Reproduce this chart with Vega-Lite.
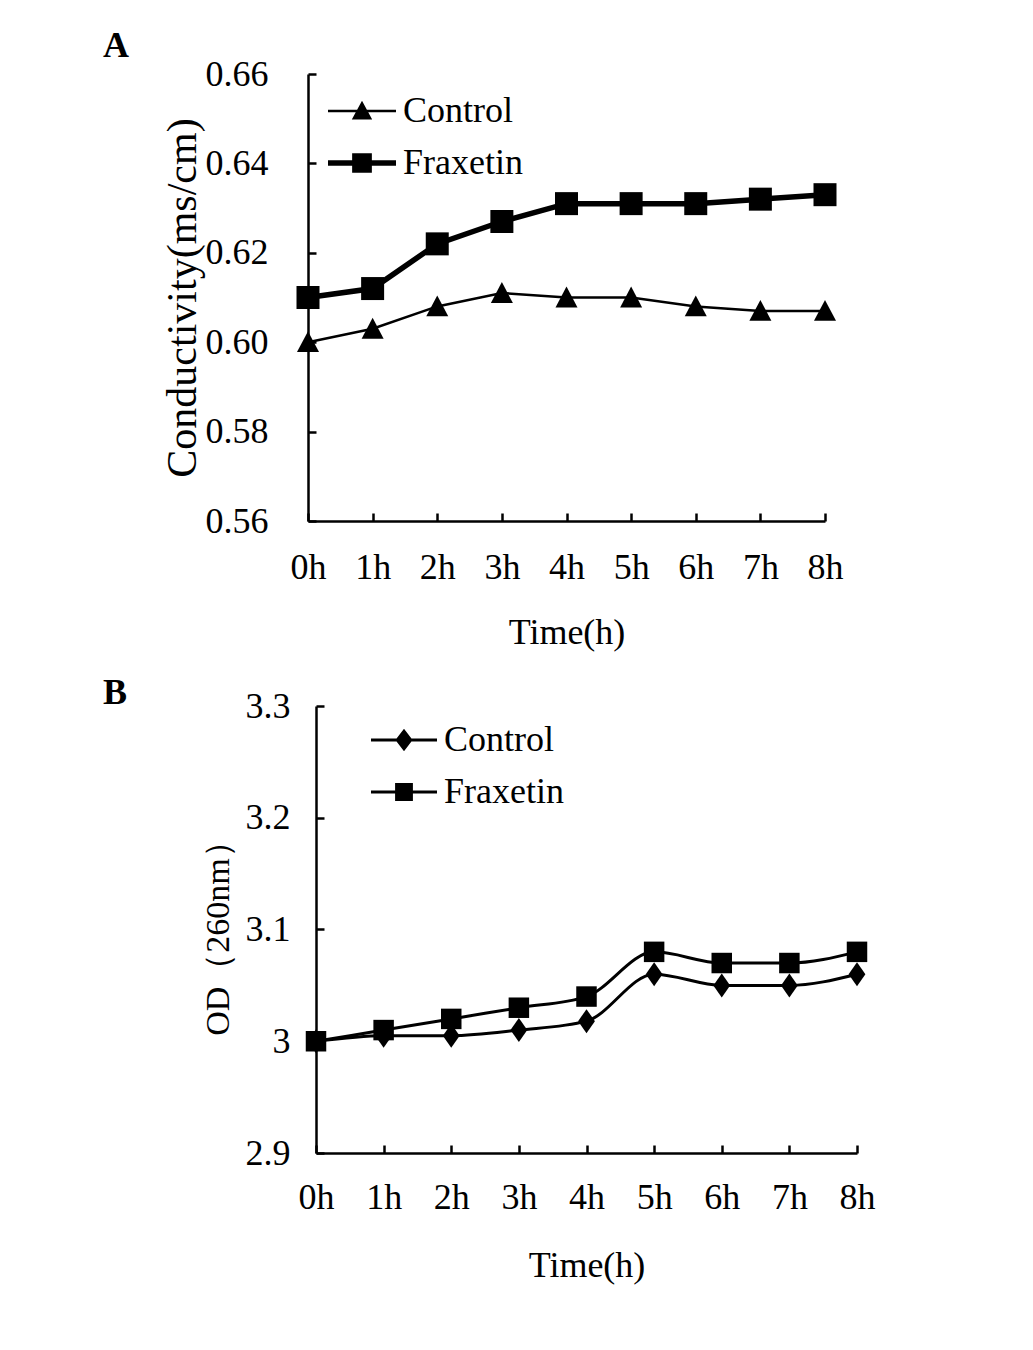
{
  "$schema": "https://vega.github.io/schema/vega-lite/v6.json",
  "padding": {"left": 103, "top": 28, "right": 5, "bottom": 5},
  "background": "white",
  "spacing": 25,
  "align": "none",
  "config": {
    "font": "Liberation Serif",
    "view": {"stroke": null},
    "axis": {
      "grid": false,
      "domainColor": "black",
      "domainWidth": 2.5,
      "tickColor": "black",
      "tickWidth": 2.5,
      "tickSize": -8,
      "labelFont": "Liberation Serif",
      "labelFontSize": 36,
      "labelColor": "black",
      "titleFont": "Liberation Serif",
      "titleFontWeight": "normal",
      "titleColor": "black"
    },
    "legend": {
      "labelFont": "Liberation Serif",
      "labelFontSize": 36,
      "labelColor": "black",
      "title": null
    },
    "title": {"font": "Liberation Serif", "fontSize": 36, "fontWeight": "bold", "color": "black"}
  },
  "datasets": {
    "conductivity": [
      {"time": "0h", "series": "Control", "value": 0.600},
      {"time": "1h", "series": "Control", "value": 0.603},
      {"time": "2h", "series": "Control", "value": 0.608},
      {"time": "3h", "series": "Control", "value": 0.611},
      {"time": "4h", "series": "Control", "value": 0.610},
      {"time": "5h", "series": "Control", "value": 0.610},
      {"time": "6h", "series": "Control", "value": 0.608},
      {"time": "7h", "series": "Control", "value": 0.607},
      {"time": "8h", "series": "Control", "value": 0.607},
      {"time": "0h", "series": "Fraxetin", "value": 0.610},
      {"time": "1h", "series": "Fraxetin", "value": 0.612},
      {"time": "2h", "series": "Fraxetin", "value": 0.622},
      {"time": "3h", "series": "Fraxetin", "value": 0.627},
      {"time": "4h", "series": "Fraxetin", "value": 0.631},
      {"time": "5h", "series": "Fraxetin", "value": 0.631},
      {"time": "6h", "series": "Fraxetin", "value": 0.631},
      {"time": "7h", "series": "Fraxetin", "value": 0.632},
      {"time": "8h", "series": "Fraxetin", "value": 0.633}
    ],
    "od": [
      {"time": "0h", "series": "Control", "value": 3.000},
      {"time": "1h", "series": "Control", "value": 3.005},
      {"time": "2h", "series": "Control", "value": 3.005},
      {"time": "3h", "series": "Control", "value": 3.010},
      {"time": "4h", "series": "Control", "value": 3.018},
      {"time": "5h", "series": "Control", "value": 3.060},
      {"time": "6h", "series": "Control", "value": 3.050},
      {"time": "7h", "series": "Control", "value": 3.050},
      {"time": "8h", "series": "Control", "value": 3.060},
      {"time": "0h", "series": "Fraxetin", "value": 3.000},
      {"time": "1h", "series": "Fraxetin", "value": 3.010},
      {"time": "2h", "series": "Fraxetin", "value": 3.020},
      {"time": "3h", "series": "Fraxetin", "value": 3.030},
      {"time": "4h", "series": "Fraxetin", "value": 3.040},
      {"time": "5h", "series": "Fraxetin", "value": 3.080},
      {"time": "6h", "series": "Fraxetin", "value": 3.070},
      {"time": "7h", "series": "Fraxetin", "value": 3.070},
      {"time": "8h", "series": "Fraxetin", "value": 3.080}
    ]
  },
  "vconcat": [
    {
      "width": 517,
      "height": 447,
      "title": {"text": "A", "anchor": "start", "frame": "group", "dx": -205, "offset": -9},
      "data": {"name": "conductivity"},
      "encoding": {
        "x": {
          "field": "time", "type": "ordinal",
          "scale": {"type": "point", "padding": 0},
          "axis": {"title": "Time(h)", "titleFontSize": 36, "labelAngle": 0, "labelPadding": 37, "titlePadding": 30}
        },
        "y": {
          "field": "value", "type": "quantitative",
          "scale": {"domain": [0.56, 0.66], "nice": false, "zero": false},
          "axis": {"title": "Conductivity(ms/cm)", "titleFontSize": 42, "values": [0.56, 0.58, 0.6, 0.62, 0.64, 0.66], "format": ".2f", "labelPadding": 48, "titlePadding": 1}
        }
      },
      "layer": [
        {
          "mark": {"type": "line", "color": "black"},
          "encoding": {
            "strokeWidth": {"field": "series", "type": "nominal", "scale": {"domain": ["Control", "Fraxetin"], "range": [2.5, 5.5]}, "legend": null}
          }
        },
        {
          "mark": {"type": "point", "filled": true, "color": "black", "opacity": 1},
          "encoding": {
            "shape": {"field": "series", "type": "nominal", "scale": {"domain": ["Control", "Fraxetin"], "range": ["M0,-1 L1,0.9 L-1,0.9 Z", "square"]}, "legend": null},
            "size": {"field": "series", "type": "nominal", "scale": {"domain": ["Control", "Fraxetin"], "range": [484, 529]}, "legend": null}
          }
        },
        {
          "mark": {"type": "point", "filled": true, "color": "black", "opacity": 0},
          "encoding": {
            "shape": {
              "field": "series", "type": "nominal",
              "scale": {"domain": ["Control", "Fraxetin"], "range": [
                "M-1,-0.037 L1,-0.037 L1,0.037 L-1,0.037 Z M0,-0.3 L0.3,0.25 L-0.3,0.25 Z",
                "M-1,-0.08 L1,-0.08 L1,0.08 L-1,0.08 Z M-0.29,-0.29 L0.29,-0.29 L0.29,0.29 L-0.29,0.29 Z"
              ]},
              "legend": {"orient": "none", "legendX": 20, "legendY": 11, "symbolSize": 4624, "symbolOpacity": 1, "symbolFillColor": "black", "symbolStrokeWidth": 0, "clipHeight": 52, "rowPadding": 0, "labelOffset": 7, "padding": 0}
            }
          }
        }
      ],
      "resolve": {"scale": {"shape": "independent", "size": "independent"}, "legend": {"shape": "independent"}}
    },
    {
      "width": 549,
      "height": 447,
      "title": {"text": "B", "anchor": "start", "frame": "group", "dx": -205, "offset": -24},
      "data": {"name": "od"},
      "encoding": {
        "x": {
          "field": "time", "type": "ordinal",
          "scale": {"type": "point", "padding": 0, "range": [8, 549]},
          "axis": {"title": "Time(h)", "titleFontSize": 36, "labelAngle": 0, "labelPadding": 35, "titlePadding": 33}
        },
        "y": {
          "field": "value", "type": "quantitative",
          "scale": {"domain": [2.9, 3.3], "nice": false, "zero": false},
          "axis": {"title": "OD（260nm）", "titleFontSize": 34, "values": [2.9, 3.0, 3.1, 3.2, 3.3], "format": "~g", "labelPadding": 34, "titlePadding": 10, "offset": -8}
        }
      },
      "layer": [
        {
          "mark": {"type": "line", "color": "black", "strokeWidth": 3, "interpolate": "monotone"},
          "encoding": {
            "detail": {"field": "series", "type": "nominal"}
          }
        },
        {
          "mark": {"type": "point", "filled": true, "color": "black", "opacity": 1},
          "encoding": {
            "shape": {"field": "series", "type": "nominal", "scale": {"domain": ["Control", "Fraxetin"], "range": ["M0,-1 L0.7,0 L0,1 L-0.7,0 Z", "square"]}, "legend": null},
            "size": {"field": "series", "type": "nominal", "scale": {"domain": ["Control", "Fraxetin"], "range": [576, 420]}, "legend": null}
          }
        },
        {
          "mark": {"type": "point", "filled": true, "color": "black", "opacity": 0},
          "encoding": {
            "shape": {
              "field": "series", "type": "nominal",
              "scale": {"domain": ["Control", "Fraxetin"], "range": [
                "M-1,-0.045 L1,-0.045 L1,0.045 L-1,0.045 Z M0,-0.34 L0.26,0 L0,0.34 L-0.26,0 Z",
                "M-1,-0.045 L1,-0.045 L1,0.045 L-1,0.045 Z M-0.27,-0.27 L0.27,-0.27 L0.27,0.27 L-0.27,0.27 Z"
              ]},
              "legend": {"orient": "none", "legendX": 63, "legendY": 8, "symbolSize": 4356, "symbolOpacity": 1, "symbolFillColor": "black", "symbolStrokeWidth": 0, "clipHeight": 52, "rowPadding": 0, "labelOffset": 7, "padding": 0}
            }
          }
        }
      ],
      "resolve": {"scale": {"shape": "independent", "size": "independent"}, "legend": {"shape": "independent"}}
    }
  ]
}
